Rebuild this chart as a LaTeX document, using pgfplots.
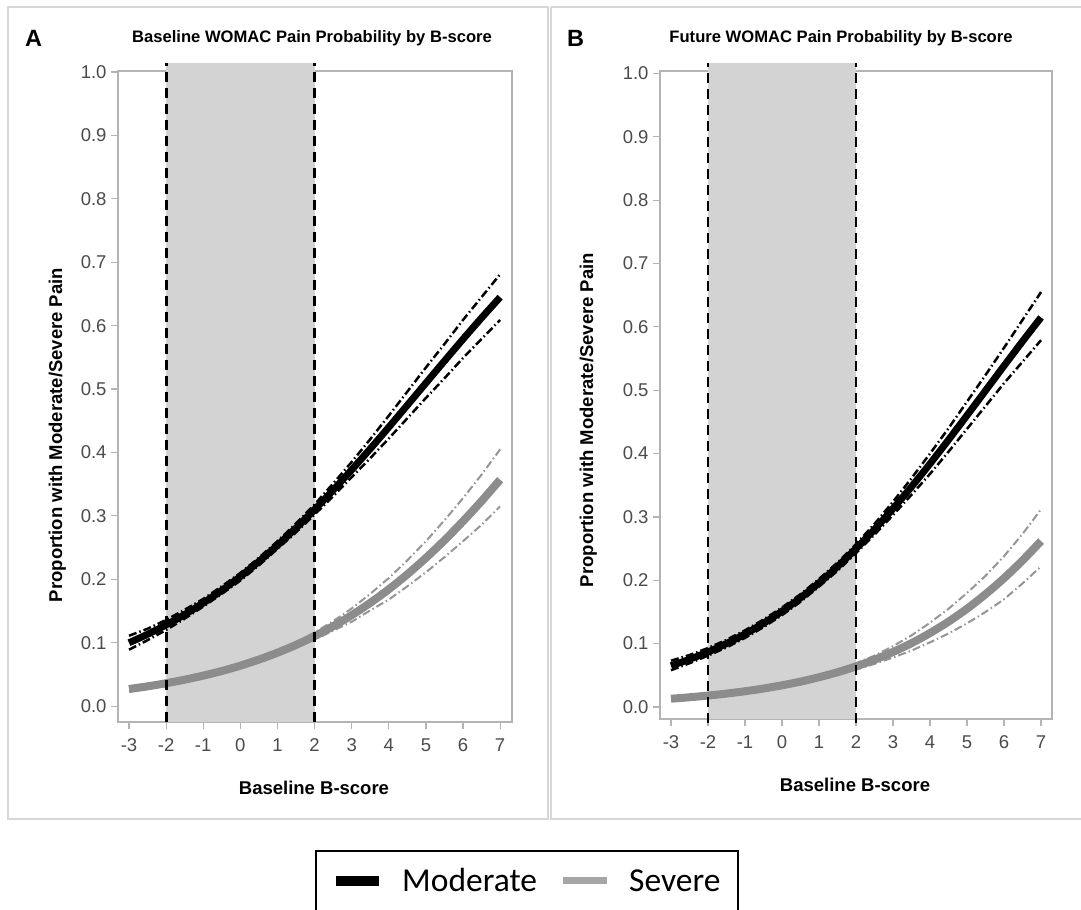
\documentclass[border=0pt]{standalone}
\usepackage{pgfplots}
\pgfplotsset{compat=1.18}
\usepackage{fontspec}
\setmainfont{Liberation Sans}
\newfontfamily\legfont{Carlito}
\definecolor{shade}{RGB}{211,211,211}
\definecolor{sev}{RGB}{140,140,140}
\definecolor{sevci}{RGB}{150,150,150}
\definecolor{legsev}{RGB}{166,166,166}
\definecolor{axgray}{RGB}{180,180,180}
\definecolor{tlgray}{RGB}{75,75,75}
\definecolor{frame}{RGB}{215,215,215}

\pgfplotsset{
  panel/.style={
    scale only axis, anchor=south west, clip=false,
    axis line style={draw=axgray, line width=1.5bp},
    tick style={draw=axgray, line width=1.2bp},
    major tick length=7bp, tick align=outside,
    xtick pos=bottom, ytick pos=left,
    xtick={-3,-2,-1,0,1,2,3,4,5,6,7},
    xticklabels={-3,-2,-1,0,1,2,3,4,5,6,7},
    ytick={0,0.1,0.2,0.3,0.4,0.5,0.6,0.7,0.8,0.9,1.0},
    yticklabels={0.0,0.1,0.2,0.3,0.4,0.5,0.6,0.7,0.8,0.9,1.0},
    tick label style={font=\fontsize{18.5bp}{22bp}\selectfont, text=tlgray},
    xticklabel style={yshift=-6bp},
    yticklabel style={xshift=-1bp},
  },
  modl/.style={black, line width=7bp},
  modci/.style={black, line width=2.5bp, dash pattern=on 8bp off 3bp on 1.5bp off 3bp},
  sevl/.style={sev, line width=8bp},
  sevcil/.style={sevci, line width=2bp, dash pattern=on 8bp off 3bp on 1.5bp off 3bp},
  shadeg/.style={fill=shade, draw=none},
  vdash/.style={black, line width=2.8bp, dash pattern=on 10bp off 6bp},
}

% Panel A data: x, fit, upper, lower
\pgfplotstableread{
x fit up lo
-3 0.1000 0.111 0.089
-2.5 0.1133 0.122 0.104
-2 0.1281 0.136 0.120
-1.5 0.1445 0.152 0.138
-1 0.1627 0.169 0.157
-0.5 0.1826 0.189 0.177
0 0.2044 0.210 0.198
0.5 0.2281 0.234 0.222
1 0.2536 0.260 0.248
1.5 0.2809 0.288 0.274
2 0.3100 0.318 0.302
2.5 0.3406 0.351 0.331
3 0.3727 0.385 0.361
3.5 0.4058 0.421 0.391
4 0.4399 0.458 0.422
4.5 0.4746 0.496 0.454
5 0.5095 0.534 0.486
5.5 0.5443 0.571 0.517
6 0.5787 0.609 0.549
6.5 0.6123 0.645 0.579
7 0.6449 0.681 0.609
}\modA
\pgfplotstableread{
x fit up lo
-3 0.0270 0.031 0.023
-2.5 0.0312 0.035 0.027
-2 0.0361 0.040 0.032
-1.5 0.0417 0.046 0.038
-1 0.0481 0.052 0.044
-0.5 0.0554 0.059 0.051
0 0.0638 0.068 0.060
0.5 0.0734 0.078 0.069
1 0.0842 0.089 0.080
1.5 0.0965 0.101 0.092
2 0.1104 0.116 0.105
2.5 0.1260 0.134 0.119
3 0.1434 0.154 0.133
3.5 0.1629 0.177 0.151
4 0.1843 0.202 0.168
4.5 0.2079 0.230 0.189
5 0.2337 0.260 0.211
5.5 0.2616 0.293 0.235
6 0.2916 0.328 0.260
6.5 0.3234 0.365 0.286
7 0.3571 0.405 0.315
}\sevA
\pgfplotstableread{
x fit up lo
-3 0.0650 0.073 0.058
-2.5 0.0752 0.082 0.069
-2 0.0868 0.093 0.081
-1.5 0.1001 0.106 0.094
-1 0.1151 0.121 0.109
-0.5 0.1321 0.138 0.126
0 0.1511 0.157 0.145
0.5 0.1723 0.178 0.166
1 0.1958 0.202 0.190
1.5 0.2217 0.228 0.215
2 0.2499 0.257 0.243
2.5 0.2804 0.289 0.272
3 0.3131 0.324 0.303
3.5 0.3477 0.361 0.335
4 0.3840 0.400 0.368
4.5 0.4217 0.440 0.403
5 0.4604 0.482 0.439
5.5 0.4994 0.524 0.475
6 0.5385 0.567 0.511
6.5 0.5772 0.611 0.545
7 0.6149 0.655 0.579
}\modB
\pgfplotstableread{
x fit up lo
-3 0.0130 0.016 0.010
-2.5 0.0153 0.018 0.012
-2 0.0180 0.021 0.015
-1.5 0.0211 0.024 0.018
-1 0.0248 0.028 0.022
-0.5 0.0291 0.032 0.026
0 0.0342 0.038 0.031
0.5 0.0400 0.044 0.036
1 0.0469 0.051 0.043
1.5 0.0548 0.059 0.051
2 0.0640 0.069 0.059
2.5 0.0746 0.081 0.068
3 0.0868 0.096 0.078
3.5 0.1007 0.113 0.089
4 0.1167 0.133 0.102
4.5 0.1347 0.155 0.116
5 0.1551 0.180 0.132
5.5 0.1780 0.207 0.150
6 0.2033 0.238 0.170
6.5 0.2313 0.273 0.195
7 0.2619 0.312 0.222
}\sevB

\begin{document}
\begin{tikzpicture}[x=1bp,y=1bp]
\path[use as bounding box] (0,0) rectangle (1081,910);
\fill[white] (0,0) rectangle (1081,910);
% panel frames
\draw[frame, line width=2bp] (8,903) rectangle (548,91);
\draw[frame, line width=2bp] (551,903) -- (1090,903);
\draw[frame, line width=2bp] (551,903) -- (551,91) -- (1090,91);

% Panel A
\begin{axis}[panel, at={(118bp,188bp)}, width=394bp, height=651bp,
  xmin=-3.296, xmax=7.32, ymin=-0.025, ymax=1.0016]
\addplot[shadeg] coordinates {(-2,-0.025) (-2,1.014) (2,1.014) (2,-0.025)} -- cycle;
\addplot[modci] table[x=x,y=up] {\modA};
\addplot[modci] table[x=x,y=lo] {\modA};
\addplot[modl, smooth] table[x=x,y=fit] {\modA};
\addplot[sevcil] table[x=x,y=up] {\sevA};
\addplot[sevcil] table[x=x,y=lo] {\sevA};
\addplot[sevl, smooth] table[x=x,y=fit] {\sevA};
\addplot[vdash] coordinates {(-2,-0.025) (-2,1.014)};
\addplot[vdash] coordinates {(2,-0.025) (2,1.014)};
\end{axis}

% Panel B
\begin{axis}[panel, at={(660bp,191bp)}, width=392bp, height=648bp,
  xmin=-3.297, xmax=7.297, ymin=-0.019, ymax=1.004]
\addplot[shadeg] coordinates {(-2,-0.019) (-2,1.016) (2,1.016) (2,-0.019)} -- cycle;
\addplot[modci] table[x=x,y=up] {\modB};
\addplot[modci] table[x=x,y=lo] {\modB};
\addplot[modl, smooth] table[x=x,y=fit] {\modB};
\addplot[sevcil] table[x=x,y=up] {\sevB};
\addplot[sevcil] table[x=x,y=lo] {\sevB};
\addplot[sevl, smooth] table[x=x,y=fit] {\sevB};
\addplot[vdash] coordinates {(-2,-0.025) (-2,1.016)};
\addplot[vdash] coordinates {(2,-0.025) (2,1.016)};
\end{axis}

% titles and labels
\node[anchor=base, inner sep=0] at (312,867) {\fontsize{16.6bp}{20bp}\selectfont\bfseries Baseline WOMAC Pain Probability by B-score};
\node[anchor=base, inner sep=0] at (841,867) {\fontsize{16.6bp}{20bp}\selectfont\bfseries Future WOMAC Pain Probability by B-score};
\node[anchor=base west, inner sep=0] at (25,863) {\fontsize{23.5bp}{28bp}\selectfont\bfseries A};
\node[anchor=base west, inner sep=0] at (567,863) {\fontsize{23.5bp}{28bp}\selectfont\bfseries B};
\node[anchor=base, inner sep=0] at (314,115) {\fontsize{18.5bp}{22bp}\selectfont\bfseries Baseline B-score};
\node[anchor=base, inner sep=0] at (855,118) {\fontsize{18.5bp}{22bp}\selectfont\bfseries Baseline B-score};
\node[anchor=base, inner sep=0, rotate=90] at (62,475) {\fontsize{18.5bp}{22bp}\selectfont\bfseries Proportion with Moderate/Severe Pain};
\node[anchor=base, inner sep=0, rotate=90] at (593,490) {\fontsize{18.5bp}{22bp}\selectfont\bfseries Proportion with Moderate/Severe Pain};

% legend
\draw[black, line width=2bp] (316,-10) -- (316,59) -- (738,59) -- (738,-10);
\draw[black, line width=10bp] (336,29) -- (379,29);
\draw[legsev, line width=7bp] (563,29) -- (607,29);
\node[anchor=base west, inner sep=0] at (402,18) {\legfont\fontsize{33.5bp}{40bp}\selectfont Moderate};
\node[anchor=base west, inner sep=0] at (629,18) {\legfont\fontsize{33.5bp}{40bp}\selectfont Severe};
\end{tikzpicture}
\end{document}
